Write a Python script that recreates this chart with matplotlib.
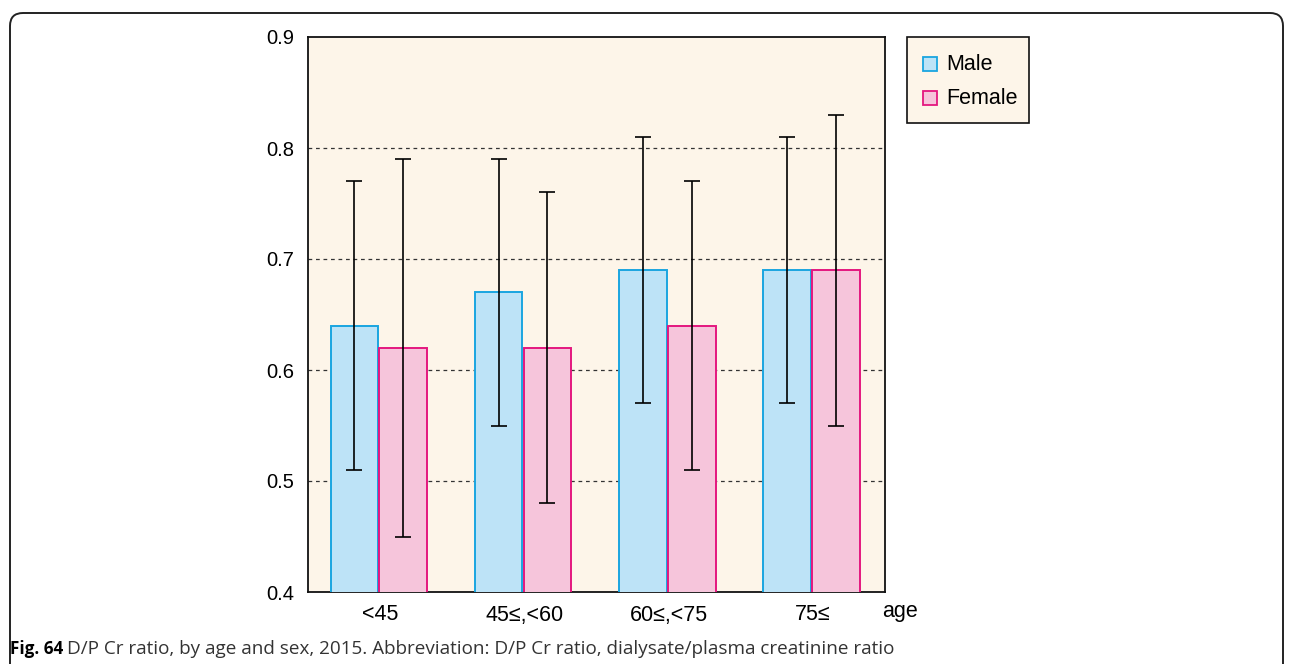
import matplotlib
matplotlib.use("Agg")
import matplotlib.pyplot as plt
from matplotlib.patches import FancyBboxPatch, Rectangle
import numpy as np

categories = ["<45", "45\u2264,<60", "60\u2264,<75", "75\u2264"]
male_mean = [0.64, 0.67, 0.69, 0.69]
male_sd = [0.13, 0.12, 0.12, 0.12]
female_mean = [0.62, 0.62, 0.64, 0.69]
female_sd = [0.17, 0.14, 0.13, 0.14]
y_ticks = [0.4, 0.5, 0.6, 0.7, 0.8, 0.9]

W, H = 1293, 664
fig = plt.figure(figsize=(W / 100, H / 100), dpi=100)
fam = ["Liberation Sans", "DejaVu Sans"]

cream = "#FDF5E9"
male_fc, male_ec = "#BDE3F7", "#1AA5E0"
fem_fc, fem_ec = "#F6C5DB", "#E4177F"

# outer rounded frame (inch units so the corners stay circular)
frame = FancyBboxPatch((0.10, -0.5), 12.73, (H - 13) / 100 + 0.5,
                       boxstyle="round,pad=0,rounding_size=0.13",
                       transform=fig.dpi_scale_trans, fill=False,
                       edgecolor="#222222", linewidth=1.4)
fig.patches.append(frame)

ax = fig.add_axes([308 / W, 1 - 592 / H, 577 / W, 555 / H])
ax.set_facecolor(cream)
x = np.arange(len(categories))
bw = 0.33
ax.bar(x - 0.178, male_mean, bw, color=male_fc, edgecolor=male_ec, linewidth=1.4, zorder=3)
ax.bar(x + 0.16, female_mean, bw, color=fem_fc, edgecolor=fem_ec, linewidth=1.4, zorder=3)
ax.errorbar(x - 0.178, male_mean, yerr=male_sd, fmt="none", ecolor="black",
            elinewidth=1.2, capsize=5.5, capthick=1.2, zorder=4)
ax.errorbar(x + 0.16, female_mean, yerr=female_sd, fmt="none", ecolor="black",
            elinewidth=1.2, capsize=5.5, capthick=1.2, zorder=4)

ax.set_xlim(-0.5, 3.5)
ax.set_ylim(0.4, 0.9)
ax.set_yticks(y_ticks)
ax.set_yticklabels([f"{v:.1f}" for v in y_ticks], family=fam, fontsize=14.5)
ax.set_xticks(x)
ax.set_xticklabels(categories, family=fam, fontsize=15.5)
ax.tick_params(length=0)
ax.tick_params(axis="y", pad=10)
ax.tick_params(axis="x", pad=9)
for v in y_ticks[1:-1]:
    ax.axhline(v, color="#333333", linestyle=(0, (3, 3)), linewidth=0.9, zorder=1)
for s in ax.spines.values():
    s.set_color("#111111")
    s.set_linewidth(1.3)

fig.text(882 / W, 1 - 612 / H, "age", family=fam, fontsize=15.5, ha="left", va="center")

# legend box
leg = Rectangle((907 / W, 1 - 123 / H), 122 / W, 86 / H, transform=fig.transFigure,
                facecolor=cream, edgecolor="#111111", linewidth=1.2)
fig.patches.append(leg)
for i, (lab, fc, ec) in enumerate([("Male", male_fc, male_ec), ("Female", fem_fc, fem_ec)]):
    yc = 64 + i * 34
    fig.patches.append(Rectangle((923 / W, 1 - (yc + 7) / H), 14 / W, 14 / H,
                                 transform=fig.transFigure, facecolor=fc,
                                 edgecolor=ec, linewidth=1.3))
    fig.text(946 / W, 1 - yc / H, lab, family=fam,
             fontsize=15.5, ha="left", va="center")

fig.text(10 / W, 1 - 649 / H, "Fig. 64", family="Open Sans", fontweight="bold",
         fontsize=12.3, ha="left", va="center")
fig.text(67 / W, 1 - 649 / H,
         "D/P Cr ratio, by age and sex, 2015. Abbreviation: D/P Cr ratio, dialysate/plasma creatinine ratio",
         family="Open Sans", fontsize=13.6, ha="left", va="center", color="#333333")

fig.savefig("out.png", dpi=100, facecolor="white")
